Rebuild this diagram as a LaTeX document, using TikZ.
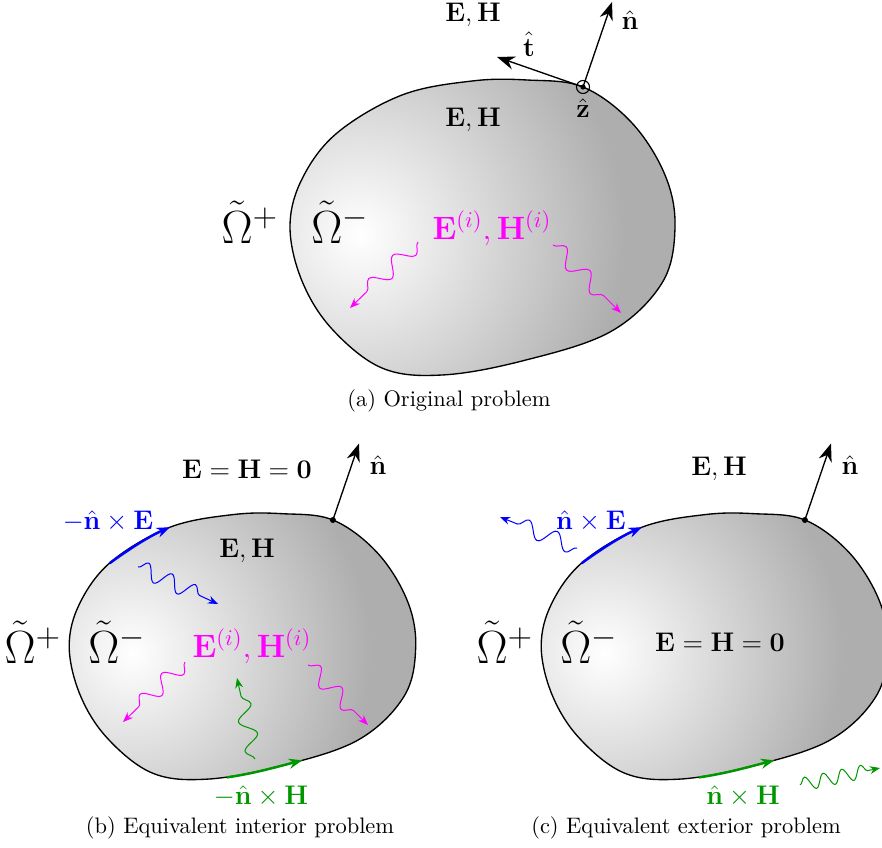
\documentclass[tikz,border=0pt]{standalone}
\definecolor{fieldmag}{RGB}{255, 0, 255}
\definecolor{curblue}{RGB}{0, 0, 255}
\definecolor{curgreen}{RGB}{0, 150, 0}
\definecolor{blobgray}{RGB}{174, 174, 174}
\usepackage{tikz}
\usetikzlibrary{arrows.meta, decorations.pathmorphing, calc}
\usepackage{amsmath, amssymb}

\newcommand{\blobshape}{plot[smooth cycle, tension=0.6] coordinates {(-192,0) (-180,-48) (-145,-94) (-80,-132) (-10,-146) (45,-147) (101,-140) (150,-104) (183,-52) (193,0) (180,56) (128,105) (40,134) (-40,148) (-100,141) (-150,102) (-180,54)}}

\begin{document}
\begin{tikzpicture}[
  x=0.446pt, y=-0.446pt,
  lbl/.style={font=\fontsize{12.5}{15}\selectfont},
  big/.style={font=\fontsize{13}{16}\selectfont},
  inc/.style={font=\Large, text=fieldmag},
  omg/.style={font=\huge},
  captxt/.style={font=\normalsize},
  vec/.style={semithick, -{Stealth[length=8pt, width=6pt]}},
  wave/.style={decorate, decoration={snake, amplitude=3.6pt, segment length=13.5pt, post length=5pt}, line width=0.45pt, -{Stealth[length=4.5pt, width=3.5pt]}},
  surf/.style={line width=1.1pt, -{Stealth[length=6pt, width=4.5pt]}}
]
  \useasboundingbox (0,0) rectangle (882,847);
  \clip (0,0) rectangle (882,847);

  % (a) original problem
  \begin{scope}[shift={(482,227)}]
    \begin{scope}
      \clip \blobshape;
      \fill[blobgray] (-200,-160) rectangle (200,160);
      \shade[inner color=white, outer color=blobgray] (-122,8) circle (265);
    \end{scope}
    \draw[semithick] \blobshape;
    \coordinate (pa) at (101,-140);
    \coordinate (na) at (130,-225);
    \coordinate (ta) at (15,-170);
  \end{scope}
  \draw[vec] (pa) -- (na);
  \draw[vec] (pa) -- (ta);
  \draw[line width=0.5pt] (pa) circle (6.5);
  \fill (pa) circle (2.6);
  \node[big] (ehouta) at (473,15) {$\mathbf{E},\mathbf{H}$};
  \node[big] (ehina) at (473,120) {$\mathbf{E},\mathbf{H}$};
  \node[lbl] (nlbla) at (630,20) {$\hat{\mathbf{n}}$};
  \node[lbl] (tlbla) at (529,44) {$\hat{\mathbf{t}}$};
  \node[lbl] (zlbla) at (583,108) {$\hat{\mathbf{z}}$};
  \node[omg] (omplusa) at (250,222) {$\tilde{\Omega}^{+}$};
  \node[omg] (omminusa) at (340,222) {$\tilde{\Omega}^{-}$};
  \node[inc] (inca) at (492,228) {$\mathbf{E}^{(i)},\mathbf{H}^{(i)}$};
  \coordinate (wa1s) at (418,242);
  \coordinate (wa1e) at (350,308);
  \coordinate (wa2s) at (553,245);
  \coordinate (wa2e) at (621,313);
  \draw[wave, fieldmag, decoration={segment length=15pt}] (wa1s) -- (wa1e);
  \draw[wave, fieldmag, decoration={segment length=15pt}] (wa2s) -- (wa2e);
  \node[captxt] (capa) at (449,401) {(a) Original problem};

  % (b) equivalent interior problem
  \begin{scope}[shift={(242,646)}, scale=0.9]
    \begin{scope}
      \clip \blobshape;
      \fill[blobgray] (-200,-160) rectangle (200,160);
      \shade[inner color=white, outer color=blobgray] (-122,8) circle (265);
    \end{scope}
    \draw[semithick] \blobshape;
    \coordinate (pb) at (101,-140);
    \coordinate (nb) at (130,-225);
    \coordinate (jbs) at (-147,-92);
    \coordinate (jbe) at (-80,-132);
    \coordinate (mbs) at (-17,146);
    \coordinate (mbe) at (67,127);
    \draw[surf, curblue] (jbs) .. controls (-125,-108) and (-103,-122) .. (jbe);
    \draw[surf, curgreen] (mbs) .. controls (12,142) and (40,134) .. (mbe);
  \end{scope}
  \draw[vec] (pb) -- (nb);
  \fill (pb) circle (3);
  \node[big] (ehoutb) at (247,469) {$\mathbf{E}=\mathbf{H}=\mathbf{0}$};
  \node[lbl] (nlblb) at (378,465) {$\hat{\mathbf{n}}$};
  \node[lbl, text=curblue] (jlblb) at (108,521) {$-\hat{\mathbf{n}}\times\mathbf{E}$};
  \node[big] (ehinb) at (247,551) {$\mathbf{E},\mathbf{H}$};
  \node[omg] (omplusb) at (33,642) {$\tilde{\Omega}^{+}$};
  \node[omg] (omminusb) at (117,642) {$\tilde{\Omega}^{-}$};
  \node[inc] (incb) at (252,646) {$\mathbf{E}^{(i)},\mathbf{H}^{(i)}$};
  \node[lbl, text=curgreen] (mlblb) at (261,796) {$-\hat{\mathbf{n}}\times\mathbf{H}$};
  \coordinate (wb1s) at (138,567);
  \coordinate (wb1e) at (218,604);
  \coordinate (wb2s) at (185,662);
  \coordinate (wb2e) at (123,722);
  \coordinate (wb3s) at (308,665);
  \coordinate (wb3e) at (368,725);
  \coordinate (wb4s) at (255,759);
  \coordinate (wb4e) at (237,678);
  \draw[wave, curblue, decoration={segment length=11.5pt}] (wb1s) -- (wb1e);
  \draw[wave, fieldmag] (wb2s) -- (wb2e);
  \draw[wave, fieldmag] (wb3s) -- (wb3e);
  \draw[wave, curgreen] (wb4s) -- (wb4e);
  \node[captxt] (capb) at (240,828) {(b) Equivalent interior problem};

  % (c) equivalent exterior problem
  \begin{scope}[shift={(714,646)}, scale=0.9]
    \begin{scope}
      \clip \blobshape;
      \fill[blobgray] (-200,-160) rectangle (200,160);
      \shade[inner color=white, outer color=blobgray] (-122,8) circle (265);
    \end{scope}
    \draw[semithick] \blobshape;
    \coordinate (pc) at (101,-140);
    \coordinate (nc) at (130,-225);
    \coordinate (jcs) at (-147,-92);
    \coordinate (jce) at (-80,-132);
    \coordinate (mcs) at (-17,146);
    \coordinate (mce) at (67,127);
    \draw[surf, curblue] (jcs) .. controls (-125,-108) and (-103,-122) .. (jce);
    \draw[surf, curgreen] (mcs) .. controls (12,142) and (40,134) .. (mce);
  \end{scope}
  \draw[vec] (pc) -- (nc);
  \fill (pc) circle (3);
  \node[big] (ehoutc) at (719,469) {$\mathbf{E},\mathbf{H}$};
  \node[lbl] (nlblc) at (850,465) {$\hat{\mathbf{n}}$};
  \node[lbl, text=curblue] (jlblc) at (591,521) {$\hat{\mathbf{n}}\times\mathbf{E}$};
  \node[omg] (omplusc) at (505,642) {$\tilde{\Omega}^{+}$};
  \node[omg] (omminusc) at (589,642) {$\tilde{\Omega}^{-}$};
  \node[big] (ehinc) at (720,642) {$\mathbf{E}=\mathbf{H}=\mathbf{0}$};
  \node[lbl, text=curgreen] (mlblc) at (743,796) {$\hat{\mathbf{n}}\times\mathbf{H}$};
  \coordinate (wc1s) at (577,548);
  \coordinate (wc1e) at (500,517);
  \coordinate (wc2s) at (800,785);
  \coordinate (wc2e) at (880,768);
  \draw[wave, curblue] (wc1s) -- (wc1e);
  \draw[wave, curgreen, decoration={segment length=8.5pt, amplitude=3pt, post length=5pt}] (wc2s) -- (wc2e);
  \node[captxt] (capc) at (686,828) {(c) Equivalent exterior problem};
\end{tikzpicture}
\end{document}
